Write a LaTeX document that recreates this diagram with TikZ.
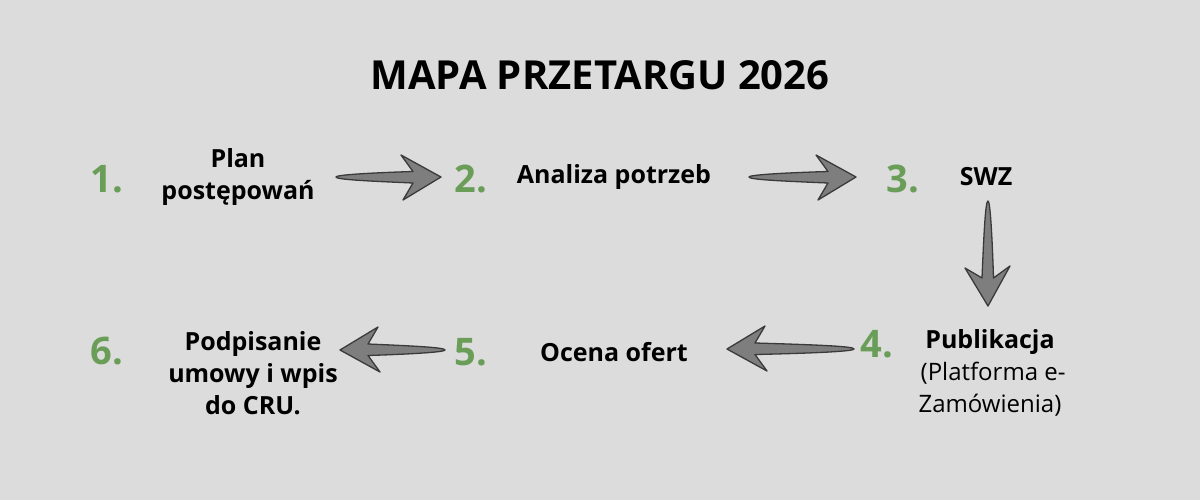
\documentclass[tikz,border=0pt]{standalone}
\usepackage{fontspec}
\setmainfont{Open Sans}
\definecolor{bg}{HTML}{DCDCDC}
\definecolor{numgreen}{HTML}{6A9E58}
\definecolor{arrfill}{HTML}{7E7E7E}
\definecolor{arrline}{HTML}{3A3A3A}
\begin{document}
\begin{tikzpicture}[x=1pt,y=-1pt,
  num/.style={font=\fontsize{38}{40}\selectfont\bfseries, text=numgreen, anchor=center, inner sep=0pt},
  lbl/.style={font=\fontsize{25}{32}\selectfont\bfseries, align=center, anchor=center, inner sep=0pt},
  pics/blockarrow/.style={code={
    \path[fill=arrfill, draw=arrline, line width=1.3pt, line join=round]
      (0,0) .. controls (0,-2) and (30,-4) .. (#1-28,-5.5)
      -- (#1-40,-22) -- (#1,0) -- (#1-38,23) -- (#1-28,6)
      .. controls (30,4) and (0,2.5) .. (0,0) -- cycle;
  }}]
\fill[bg] (0,0) rectangle (1200,500);
\useasboundingbox (0,0) rectangle (1200,500);

\node[font=\fontsize{40}{44}\selectfont\bfseries, inner sep=0pt] (title) at (600,75) {MAPA PRZETARGU 2026};

\node[num] (n1) at (107,179) {1.};
\node[lbl] (t1) at (238,177) {Plan\\postępowań};
\node[num] (n2) at (471,179) {2.};
\node[lbl] (t2) at (614,177) {Analiza potrzeb};
\node[num] (n3) at (903,179) {3.};
\node[lbl] (t3) at (986,177) {SWZ};

\node[num] (n4) at (877,344) {4.};
\node[lbl] (t4) at (990,373) {Publikacja\\{\fontsize{24}{32}\selectfont\mdseries\ (Platforma e-}\\{\fontsize{24}{32}\selectfont\mdseries Zamówienia)}};
\node[num] (n5) at (471,352) {5.};
\node[lbl] (t5) at (614,352) {Ocena ofert};
\node[num] (n6) at (107,351) {6.};
\node[lbl] (t6) at (253,373) {Podpisanie\\umowy i wpis\\do CRU.};

\pic at (336,177) {blockarrow=105};
\pic at (749,177) {blockarrow=107};
\pic[rotate=-90] at (988,201) {blockarrow=105};
\pic[rotate=180] at (854,349) {blockarrow=127};
\pic[rotate=180] at (445,350) {blockarrow=105};
\end{tikzpicture}
\end{document}
